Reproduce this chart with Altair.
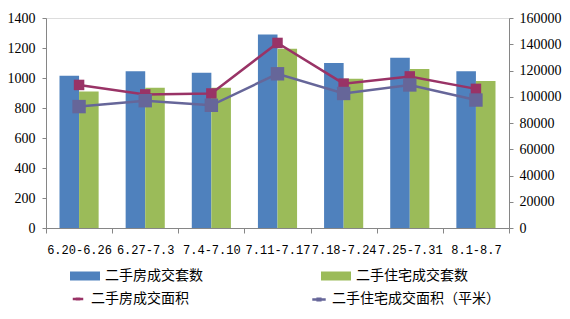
import altair as alt
import pandas as pd

weeks = ["6.20-6.26", "6.27-7.3", "7.4-7.10", "7.11-7.17", "7.18-7.24", "7.25-7.31", "8.1-8.7"]
bar_series = ["二手房成交套数", "二手住宅成交套数"]
line_series = ["二手房成交面积", "二手住宅成交面积（平米）"]
sets_all = [1015, 1045, 1035, 1290, 1100, 1135, 1045]
sets_res = [910, 935, 935, 1195, 995, 1060, 980]
area_all = [109000, 101800, 102500, 141000, 110000, 115500, 106000]
area_res = [92500, 97000, 93500, 117500, 102500, 109000, 97500]

bar_colors = ["#4F81BD", "#9BBB59"]
line_colors = ["#993366", "#666699"]

bars_df = pd.DataFrame({
    "week": weeks * 2,
    "series": [bar_series[0]] * len(weeks) + [bar_series[1]] * len(weeks),
    "value": sets_all + sets_res,
})
lines_df = pd.DataFrame({
    "week": weeks * 2,
    "series": [line_series[0]] * len(weeks) + [line_series[1]] * len(weeks),
    "value": area_all + area_res,
    "order": list(range(len(weeks) * 2)),
})

axis_color = "#868686"
x_enc = alt.X(
    "week:N", sort=weeks, title=None,
    scale=alt.Scale(paddingInner=0, paddingOuter=0),
    axis=alt.Axis(tickBand="extent", labelAngle=0, labelOverlap=False,
                  labelFont="Liberation Mono", labelFontSize=12, labelColor="#000000",
                  domainColor=axis_color, tickColor=axis_color, tickSize=5,
                  labelPadding=11, grid=False, labelLimit=200),
)

bars = alt.Chart(bars_df).mark_bar().encode(
    x=x_enc,
    xOffset=alt.XOffset("series:N", sort=bar_series,
                        scale=alt.Scale(paddingInner=0, paddingOuter=0.69)),
    y=alt.Y("value:Q", title=None,
            scale=alt.Scale(domain=[0, 1400], nice=False),
            axis=alt.Axis(values=list(range(0, 1401, 200)), orient="left", labelOverlap=False,
                          labelFont="Liberation Serif", labelFontSize=14, labelColor="#000000",
                          domainColor=axis_color, tickColor=axis_color, tickSize=4,
                          labelPadding=7, grid=False, format="d")),
    color=alt.Color("series:N", sort=bar_series,
                    scale=alt.Scale(domain=bar_series, range=bar_colors),
                    legend=alt.Legend(orient="none", legendX=24, legendY=243, direction="horizontal",
                                      columns=2, columnPadding=118, title=None,
                                      symbolType="M-1,-0.3H1V0.3H-1Z", symbolSize=900,
                                      symbolStrokeWidth=0, symbolOpacity=1,
                                      labelFont="Noto Sans CJK SC", labelFontSize=14,
                                      labelColor="#000000", labelOffset=5, labelLimit=300)),
)

y2 = alt.Y("value:Q", title=None,
           scale=alt.Scale(domain=[0, 160000], nice=False),
           axis=alt.Axis(values=list(range(0, 160001, 20000)), orient="right", labelOverlap=False,
                         labelFont="Liberation Serif", labelFontSize=14, labelColor="#000000",
                         domainColor=axis_color, tickColor=axis_color, tickSize=4,
                         labelPadding=6, grid=False, format="d"))

# line with a filled square drawn from short vertical strokes
sq = "".join("M%.2f,-0.3V0.3" % x for x in [-0.2, -0.12, -0.04, 0.04, 0.12, 0.2])
line_legend = alt.Legend(orient="none", legendX=24, legendY=273, direction="horizontal",
                         columns=2, columnPadding=118, title=None,
                         symbolType="M-1,0H1" + sq,
                         symbolSize=900, symbolStrokeWidth=2.5, symbolOpacity=1,
                         labelFont="Noto Sans CJK SC", labelFontSize=14,
                         labelColor="#000000", labelOffset=5, labelLimit=300)

lines = alt.Chart(lines_df).mark_line(strokeWidth=2.5).encode(
    x=alt.X("week:N", sort=weeks),
    y=y2,
    color=alt.Color("series:N", sort=line_series,
                    scale=alt.Scale(domain=line_series, range=line_colors),
                    legend=line_legend),
)
points = alt.Chart(lines_df).mark_point(shape="square", filled=True, opacity=1).encode(
    x=alt.X("week:N", sort=weeks),
    y=y2,
    color=alt.Color("series:N", sort=line_series,
                    scale=alt.Scale(domain=line_series, range=line_colors),
                    legend=line_legend),
    size=alt.Size("series:N", sort=line_series,
                  scale=alt.Scale(domain=line_series, range=[110, 180]), legend=None),
    order=alt.Order("order:Q"),
)

right = alt.layer(lines, points)

chart = alt.layer(bars, right).resolve_scale(
    y="independent", color="independent", size="independent"
).properties(
    width=463, height=210,
    padding={"left": 46, "top": 18, "right": 61, "bottom": 91},
    autosize=alt.AutoSizeParams(type="none"),
).configure_view(stroke=None).configure(background="white")

chart.save("out.html", embed_options={"renderer": "svg", "actions": False})
